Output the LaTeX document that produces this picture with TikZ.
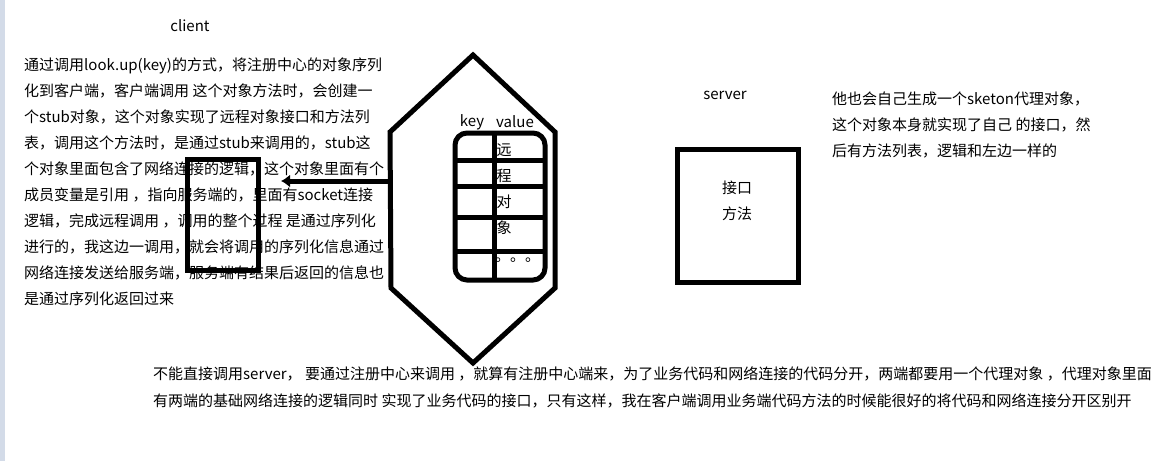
\documentclass[tikz,border=0pt]{standalone}
\usepackage{fontspec}
\setmainfont{Noto Sans CJK SC}
\usetikzlibrary{arrows.meta}
\definecolor{stripgray}{RGB}{211,219,232}

\begin{document}
\begin{tikzpicture}[x=1pt, y=-1pt, every node/.style={inner sep=0pt, font=\fontsize{15}{26}\selectfont},
        pen/.style={line width=5pt}, para/.style={anchor=north west, align=left}]
            \useasboundingbox (0,0) rectangle (1166,461);
            \fill[stripgray] (0,0) rectangle (5,461);

            \node (client) at (190,26) {client};
            \node[para] (clientnote) at (24,58) {通过调用look.up(key)的方式，将注册中心的对象序列\\
                化到客户端，客户端调用 这个对象方法时，会创建一\\
                个stub对象，这个对象实现了远程对象接口和方法列\\
                表，调用这个方法时，是通过stub来调用的，stub这\\
                个对象里面包含了网络连接的逻辑，这个对象里面有个\\
                成员变量是引用 ，指向服务端的，里面有socket连接\\
                逻辑，完成远程调用 ，调用的整个过程 是通过序列化\\
                进行的，我这边一调用，就会将调用的序列化信息通过\\
                网络连接发送给服务端，服务端有结果后返回的信息也\\
                是通过序列化返回过来};
            \draw[pen] (187,159) rectangle (258,270);
            \coordinate (stubtip) at (281,181);

            \coordinate (hexN) at (473,55);
            \coordinate (hexNE) at (555,132);
            \coordinate (hexSE) at (555,288);
            \coordinate (hexS) at (473,363);
            \coordinate (hexSW) at (391,288);
            \coordinate (hexNW) at (390,132);
            \coordinate (regW) at (390,181);
            \draw[pen] (hexN) -- (hexNE) -- (hexSE) -- (hexS) -- (hexSW) -- (hexNW) -- cycle;
            \draw[pen, -{Latex[length=9pt,width=13pt]}] (regW) -- (stubtip);

            \node (keyhead) at (472,122) {key};
            \node (valhead) at (515,122) {value};
            \draw[pen, rounded corners=12pt] (455,133) rectangle (545,280);
            \draw[pen] (494,133) -- (494,280);
            \draw[pen] (455,160) -- (545,160);
            \draw[pen] (455,186) -- (545,186);
            \draw[pen] (455,217) -- (545,217);
            \draw[pen] (455,251) -- (545,251);
            \node[align=center] (remote) at (504,189) {远\\程\\对\\象};
            \node[anchor=base west] (dots) at (495,261) {。。。};

            \node (server) at (725,95) {server};
            \draw[pen] (677,149) rectangle (798,282);
            \node[align=center] (iface) at (737,201) {接口\\方法};
            \node[para] (servernote) at (832,92) {他也会自己生成一个sketon代理对象，\\
                这个对象本身就实现了自己 的接口，然\\
                后有方法列表，逻辑和左边一样的};

            \node[para, font=\fontsize{15}{27.3}\selectfont] (summary) at (153,366) {不能直接调用server， 要通过注册中心来调用 ，就算有注册中心端来，为了业务代码和网络连接的代码分开，两端都要用一个代理对象 ，代理对象里面\\
                有两端的基础网络连接的逻辑同时 实现了业务代码的接口，只有这样，我在客户端调用业务端代码方法的时候能很好的将代码和网络连接分开区别开};

        \end{tikzpicture}
\end{document}
